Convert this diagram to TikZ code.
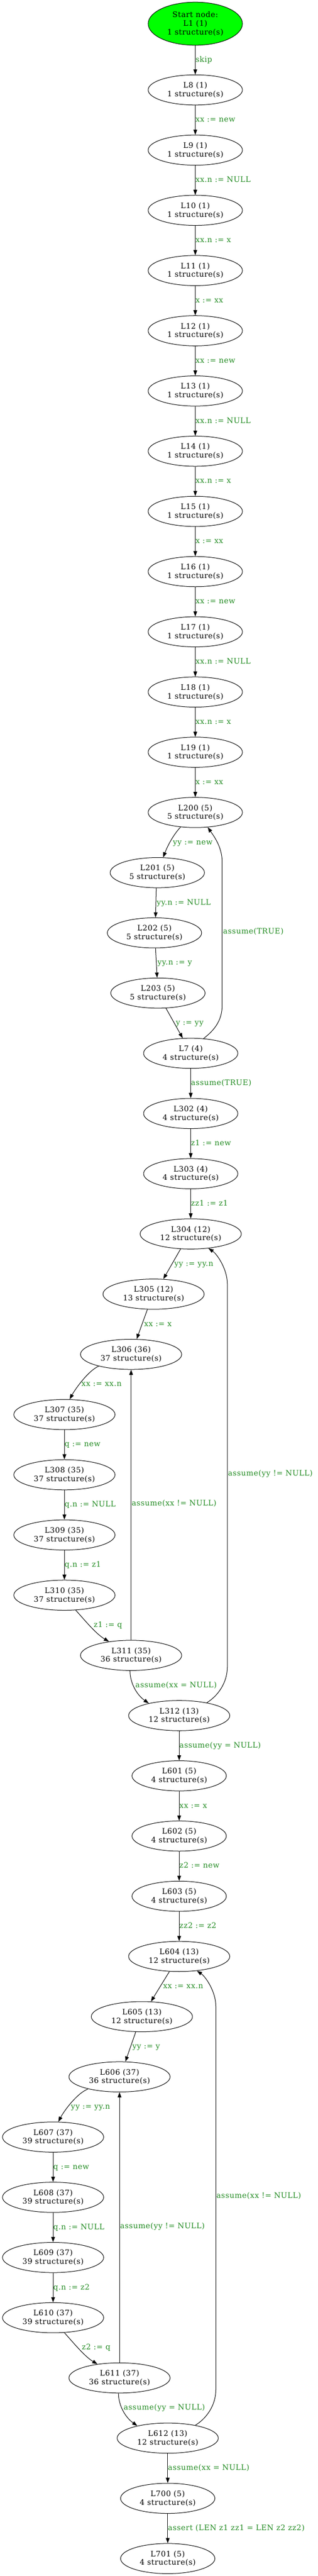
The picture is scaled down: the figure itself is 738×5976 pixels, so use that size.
\documentclass[tikz,border=0pt]{standalone}
\usepackage{fontspec}
\setmainfont[LetterSpace=4]{DejaVu Serif}
\usetikzlibrary{shapes.geometric,arrows.meta}
\definecolor{lblgreen}{HTML}{228B22}
\definecolor{startgreen}{HTML}{00FF00}
\begin{document}
\begin{tikzpicture}[x=1pt,y=-1pt,
  st/.style={ellipse, draw, line width=1.2pt, inner sep=0pt, minimum width=219pt, minimum height=70pt, align=center, font=\fontsize{17.5}{20}\selectfont},
  wide/.style={minimum width=235pt},
  edge/.style={draw, line width=1.2pt, -{Triangle[length=12pt,width=8.6pt]}},
  lbl/.style={text=lblgreen, inner sep=0pt, anchor=west, text height=13pt, text depth=4pt, font=\fontsize{17.5}{20}\selectfont}]
\useasboundingbox (0,0) rectangle (738,5976);

% nodes
\node[st, fill=startgreen, minimum height=100pt] (L1) at (453.6,55) {Start node:\\L1 (1)\\1 structure(s)};
\node[st] (L8)  at (453.6,208.6)  {L8 (1)\\1 structure(s)};
\node[st] (L9)  at (453.6,348.28) {L9 (1)\\1 structure(s)};
\node[st] (L10) at (453.6,487.96) {L10 (1)\\1 structure(s)};
\node[st] (L11) at (453.6,627.64) {L11 (1)\\1 structure(s)};
\node[st] (L12) at (453.6,767.32) {L12 (1)\\1 structure(s)};
\node[st] (L13) at (453.6,907.0)  {L13 (1)\\1 structure(s)};
\node[st] (L14) at (453.6,1046.68) {L14 (1)\\1 structure(s)};
\node[st] (L15) at (453.6,1186.36) {L15 (1)\\1 structure(s)};
\node[st] (L16) at (453.6,1326.04) {L16 (1)\\1 structure(s)};
\node[st] (L17) at (453.6,1465.72) {L17 (1)\\1 structure(s)};
\node[st] (L18) at (453.6,1605.4) {L18 (1)\\1 structure(s)};
\node[st] (L19) at (453.6,1745.08) {L19 (1)\\1 structure(s)};
\node[st] (L200) at (453.6,1884.76) {L200 (5)\\5 structure(s)};
\node[st] (L201) at (365.4,2024.44) {L201 (5)\\5 structure(s)};
\node[st] (L202) at (358.8,2164.12) {L202 (5)\\5 structure(s)};
\node[st] (L203) at (366.8,2303.8) {L203 (5)\\5 structure(s)};
\node[st] (L7)   at (443,2443.48) {L7 (4)\\4 structure(s)};
\node[st] (L302) at (443,2583.16) {L302 (4)\\4 structure(s)};
\node[st] (L303) at (443,2722.84) {L303 (4)\\4 structure(s)};
\node[st,wide] (L304) at (443,2862.52) {L304 (12)\\12 structure(s)};
\node[st,wide] (L305) at (356.7,3002.2) {L305 (12)\\13 structure(s)};
\node[st,wide] (L306) at (304.5,3141.88) {L306 (36)\\37 structure(s)};
\node[st,wide] (L307) at (149.6,3281.56) {L307 (35)\\37 structure(s)};
\node[st,wide] (L308) at (149.6,3421.24) {L308 (35)\\37 structure(s)};
\node[st,wide] (L309) at (149.6,3560.92) {L309 (35)\\37 structure(s)};
\node[st,wide] (L310) at (149.6,3700.6) {L310 (35)\\37 structure(s)};
\node[st,wide] (L311) at (304.5,3840.28) {L311 (35)\\36 structure(s)};
\node[st,wide] (L312) at (416.2,3979.96) {L312 (13)\\12 structure(s)};
\node[st] (L601) at (416.2,4119.64) {L601 (5)\\4 structure(s)};
\node[st] (L602) at (416.2,4259.32) {L602 (5)\\4 structure(s)};
\node[st] (L603) at (416.2,4399.0) {L603 (5)\\4 structure(s)};
\node[st,wide] (L604) at (416.2,4538.68) {L604 (13)\\12 structure(s)};
\node[st,wide] (L605) at (329.6,4678.36) {L605 (13)\\12 structure(s)};
\node[st,wide] (L606) at (277.6,4818.04) {L606 (37)\\36 structure(s)};
\node[st,wide] (L607) at (123.3,4957.72) {L607 (37)\\39 structure(s)};
\node[st,wide] (L608) at (123.3,5097.4) {L608 (37)\\39 structure(s)};
\node[st,wide] (L609) at (123.3,5237.08) {L609 (37)\\39 structure(s)};
\node[st,wide] (L610) at (123.3,5376.76) {L610 (37)\\39 structure(s)};
\node[st,wide] (L611) at (277.6,5516.44) {L611 (37)\\36 structure(s)};
\node[st,wide] (L612) at (389.6,5656.12) {L612 (13)\\12 structure(s)};
\node[st] (L700) at (389.6,5795.8) {L700 (5)\\4 structure(s)};
\node[st] (L701) at (389.6,5935.48) {L701 (5)\\4 structure(s)};

% straight edges
\draw[edge] (L1) -- node[lbl] {skip} (L8);
\draw[edge] (L8) -- node[lbl] {xx := new} (L9);
\draw[edge] (L9) -- node[lbl] {xx.n := NULL} (L10);
\draw[edge] (L10) -- node[lbl] {xx.n := x} (L11);
\draw[edge] (L11) -- node[lbl] {x := xx} (L12);
\draw[edge] (L12) -- node[lbl] {xx := new} (L13);
\draw[edge] (L13) -- node[lbl] {xx.n := NULL} (L14);
\draw[edge] (L14) -- node[lbl] {xx.n := x} (L15);
\draw[edge] (L15) -- node[lbl] {x := xx} (L16);
\draw[edge] (L16) -- node[lbl] {xx := new} (L17);
\draw[edge] (L17) -- node[lbl] {xx.n := NULL} (L18);
\draw[edge] (L18) -- node[lbl] {xx.n := x} (L19);
\draw[edge] (L19) -- node[lbl] {x := xx} (L200);

\draw[edge] (L200.225.5) .. controls (408,1930) and (392,1955) .. (L201.69.8);
\node[lbl] (t200) at (401.4,1954.6) {yy := new};
\draw[edge] (L201.266.6) -- (L202.86.4);
\node[lbl] (t201) at (363.8,2094.3) {yy.n := NULL};
\draw[edge] (L202.274.2) -- (L203.93.4);
\node[lbl] (t202) at (365.6,2234) {yy.n := y};
\draw[edge] (L203.298) -- (L7.118.8);
\node[lbl] (t203) at (408.5,2373.6) {y := yy};
\draw[edge] (L7.49.8) .. controls (495,2392) and (516,2370) .. (516,2332) -- (516,2000) .. controls (516,1965) and (497,1940) .. (L200.310.3);
\node[lbl] (t7a) at (518,2162) {assume(TRUE)};

\draw[edge] (L7) -- node[lbl] {assume(TRUE)} (L302);
\draw[edge] (L302) -- node[lbl] {z1 := new} (L303);
\draw[edge] (L303) -- node[lbl] {zz1 := z1} (L304);

\draw[edge] (L304.236.5) -- (L305.57.7);
\node[lbl] (t304) at (404.7,2932.4) {yy := yy.n};
\draw[edge] (L305.248.6) -- (L306.70);
\node[lbl] (t305) at (334.6,3072) {xx := x};
\draw[edge] (L306.200.6) .. controls (205,3180) and (175,3222) .. (L307.71.8);
\node[lbl] (t306) at (189.2,3211.7) {xx := xx.n};
\draw[edge] (L307) -- node[lbl] {q := new} (L308);
\draw[edge] (L308) -- node[lbl] {q.n := NULL} (L309);
\draw[edge] (L309) -- node[lbl] {q.n := z1} (L310);
\draw[edge] (L310.307) .. controls (193,3754) and (222,3790) .. (L311.148.8);
\node[lbl] (t310) at (217.4,3770.4) {z1 := q};
\draw[edge] (L311) -- (L306);
\node[lbl] (t311a) at (305.9,3489) {assume(xx != NULL)};
\draw[edge] (L311.266) .. controls (302,3905) and (318,3932) .. (L312.158.3);
\node[lbl] (t311b) at (314.4,3910) {assume(xx = NULL)};
\draw[edge] (L312.25.1) .. controls (505,3935) and (528,3905) .. (528,3867) -- (528,2978) .. controls (528,2945) and (505,2910) .. (L304.321.9);
\node[lbl] (t312a) at (529.4,3419) {assume(yy != NULL)};

\draw[edge] (L312) -- node[lbl] {assume(yy = NULL)} (L601);
\draw[edge] (L601) -- node[lbl] {xx := x} (L602);
\draw[edge] (L602) -- node[lbl] {z2 := new} (L603);
\draw[edge] (L603) -- node[lbl] {zz2 := z2} (L604);

\draw[edge] (L604.237.6) -- (L605.59);
\node[lbl] (t604) at (378.8,4608.5) {xx := xx.n};
\draw[edge] (L605.248.7) -- (L606.69);
\node[lbl] (t605) at (307.3,4748.2) {yy := y};
\draw[edge] (L606.201.6) .. controls (178.1,4856.2) and (148.1,4898.2) .. (L607.71.5);
\node[lbl] (t606) at (164.7,4887.9) {yy := yy.n};
\draw[edge] (L607) -- node[lbl] {q := new} (L608);
\draw[edge] (L608) -- node[lbl] {q.n := NULL} (L609);
\draw[edge] (L609) -- node[lbl] {q.n := z2} (L610);
\draw[edge] (L610.307) .. controls (166.7,5430.2) and (195.7,5466.2) .. (L611.148.8);
\node[lbl] (t610) at (190,5446.6) {z2 := q};
\draw[edge] (L611) -- (L606);
\node[lbl] (t611a) at (278.6,5165) {assume(yy != NULL)};
\draw[edge] (L611.266) .. controls (275.4,5581.2) and (291.4,5608.2) .. (L612.158.3);
\node[lbl] (t611b) at (287,5586.3) {assume(yy = NULL)};
\draw[edge] (L612.25.1) .. controls (478.4,5611.2) and (501.4,5581.2) .. (501.4,5543.2) -- (501.4,4654.2) .. controls (501.4,4621.2) and (478.4,4586.2) .. (L604.321.9);
\node[lbl] (t612a) at (502.6,5095) {assume(xx != NULL)};

\draw[edge] (L612) -- node[lbl] {assume(xx = NULL)} (L700);
\draw[edge] (L700) -- node[lbl] {assert (LEN z1 zz1 = LEN z2 zz2)} (L701);
\end{tikzpicture}
\end{document}
